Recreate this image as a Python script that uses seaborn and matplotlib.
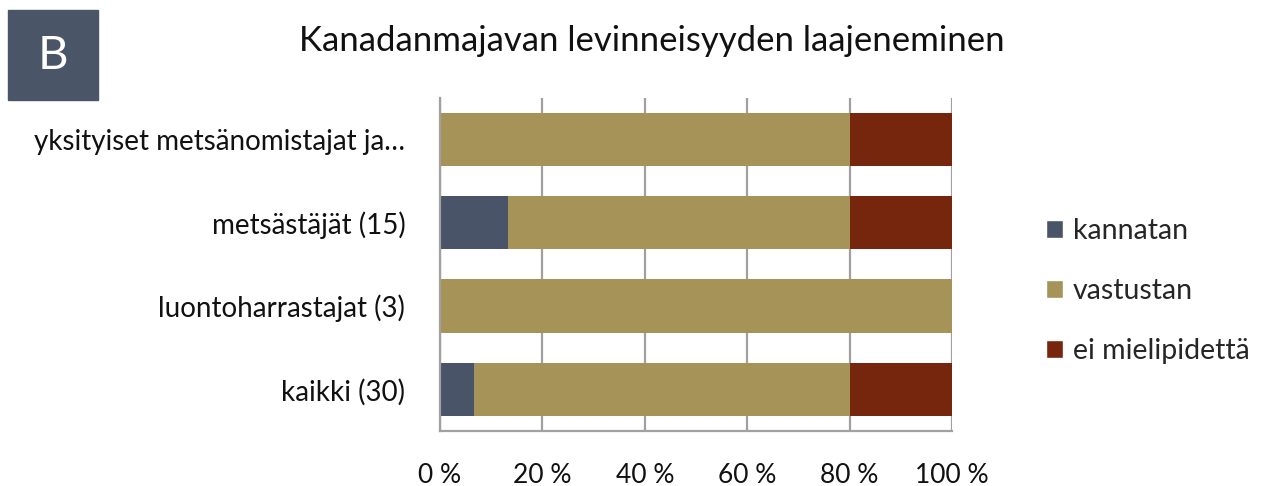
import matplotlib
matplotlib.use("Agg")
import matplotlib.pyplot as plt
from matplotlib.patches import Patch
import numpy as np
import pandas as pd
import seaborn as sns

# Data
ryhmat = ["yksityiset metsänomistajat ja…", "metsästäjät (15)", "luontoharrastajat (3)", "kaikki (30)"]
kannatan = [0.0, 13.3, 0.0, 6.7]
vastustan = [80.0, 66.7, 100.0, 73.3]
ei_mielipidetta = [20.0, 20.0, 0.0, 20.0]
sarjat = ["kannatan", "vastustan", "ei mielipidettä"]
varit = ["#4A5468", "#A69357", "#76260D"]
x_ticks = [0, 20, 40, 60, 80, 100]
x_labels = ["0 %", "20 %", "40 %", "60 %", "80 %", "100 %"]
otsikko = "Kanadanmajavan levinneisyyden laajeneminen"


def build_df():
    df = pd.DataFrame({
        "ryhma": ryhmat,
        "kannatan": kannatan,
        "vastustan": vastustan,
        "ei": ei_mielipidetta,
    })
    # cumulative ends for stacking
    df["c1"] = df["kannatan"]
    df["c2"] = df["kannatan"] + df["vastustan"]
    df["c3"] = df["c2"] + df["ei"]
    return df


def main():
    sns.set_theme(style="white")
    plt.rcParams["font.family"] = ["Lato", "DejaVu Sans"]

    df = build_df()

    fig = plt.figure(figsize=(12.71, 4.86), dpi=100)
    ax = fig.add_axes([0.3462, 0.1132, 0.749 - 0.3462, 0.7984 - 0.1132])

    # draw from the widest stack to the narrowest
    for col, color in zip(["c3", "c2", "c1"], varit[::-1]):
        sns.barplot(data=df, x=col, y="ryhma", color=color, width=0.64,
                    saturation=1, ax=ax, orient="h", zorder=2, linewidth=0)

    ax.set_xlim(0, 100)
    ax.set_ylim(3.5, -0.5)
    ax.set_xticks(x_ticks)
    ax.set_xticklabels(x_labels)
    ax.set_xlabel("")
    ax.set_ylabel("")
    ax.tick_params(axis="x", length=0, pad=23, labelsize=19, colors="#111111")
    ax.tick_params(axis="y", length=0, pad=25, labelsize=20, colors="#111111")

    for t in x_ticks:
        ax.axvline(t, color="#a0a0a0", lw=1.6, zorder=1)
    for side in ["top", "right"]:
        ax.spines[side].set_visible(False)
    for side in ["left", "bottom"]:
        ax.spines[side].set_color("#a0a0a0")
        ax.spines[side].set_linewidth(1.6)

    handles = [Patch(facecolor=c, label=s) for s, c in zip(sarjat, varit)]
    fig.legend(handles=handles, loc="center left", bbox_to_anchor=(0.8025, 0.401),
               frameon=False, fontsize=20.5, handlelength=0.6, handleheight=0.6,
               handletextpad=0.35, labelspacing=1.2)

    fig.text(0.513, 0.915, otsikko, ha="center", va="center", fontsize=25, color="#111111")

    # "B" tag in the corner
    fig.patches.append(plt.Rectangle((8 / 1271, 1 - 100 / 486), 90 / 1271, 90 / 486,
                                     transform=fig.transFigure, color="#4B5568", zorder=0))
    fig.text(53 / 1271, 1 - 56 / 486, "B", ha="center", va="center",
             fontsize=34, color="white")

    fig.savefig("out.png", dpi=100)
    plt.close(fig)


if __name__ == "__main__":
    main()
